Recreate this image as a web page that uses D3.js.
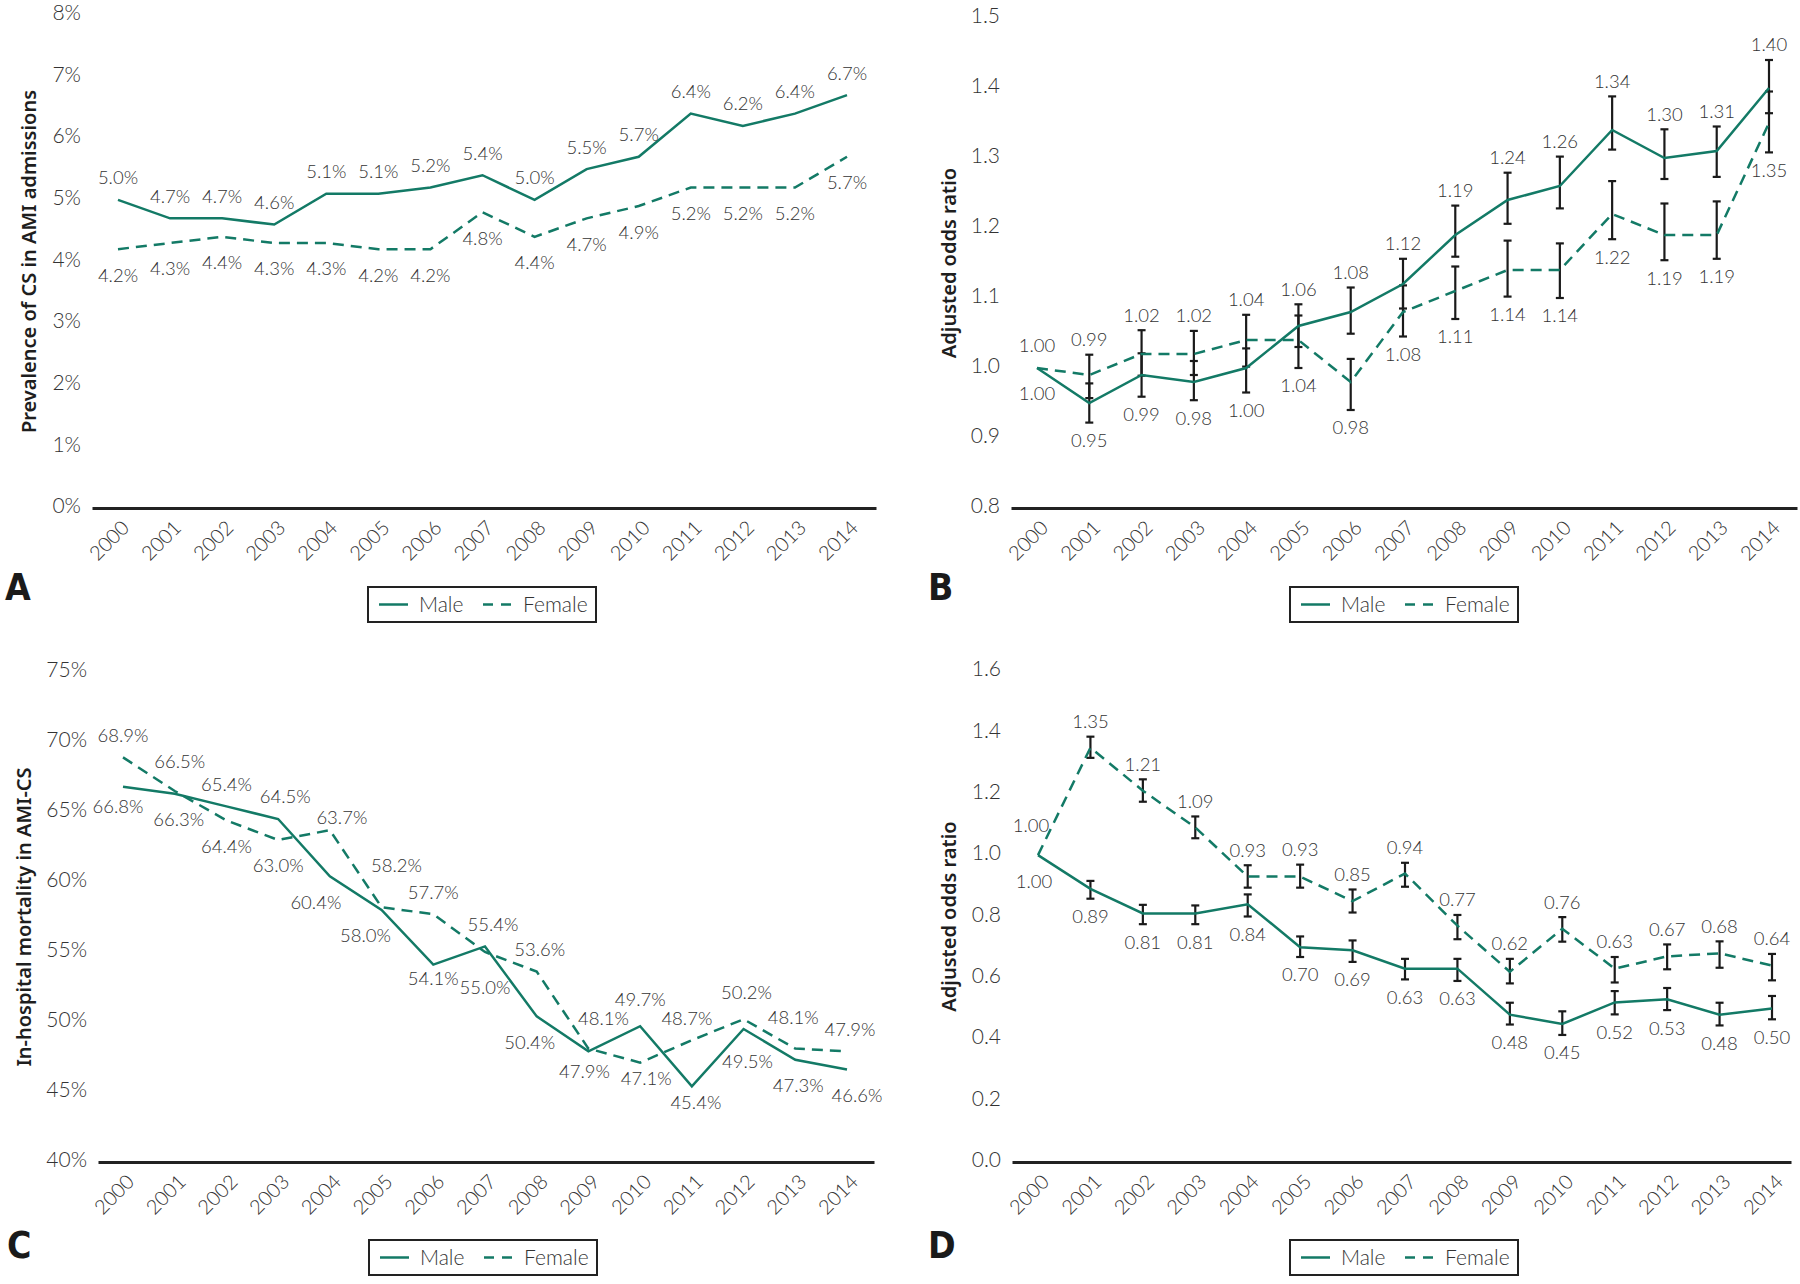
<!DOCTYPE html>
<html>
<head>
<meta charset="utf-8">
<script src="https://cdn.jsdelivr.net/npm/d3@7"></script>
<style>
  html, body { margin: 0; padding: 0; background: #fff; }
  svg { display: block; }
</style>
</head>
<body>
<svg id="chart" width="1800" height="1284"></svg>
<script>
// ---------------- DATA ----------------
const years = ["2000","2001","2002","2003","2004","2005","2006","2007","2008","2009","2010","2011","2012","2013","2014"];

// A: Prevalence of CS in AMI admissions (%)
const prevMale   = [5.0, 4.7, 4.7, 4.6, 5.1, 5.1, 5.2, 5.4, 5.0, 5.5, 5.7, 6.4, 6.2, 6.4, 6.7];
const prevFemale = [4.2, 4.3, 4.4, 4.3, 4.3, 4.2, 4.2, 4.8, 4.4, 4.7, 4.9, 5.2, 5.2, 5.2, 5.7];
const prevTicks  = [0, 1, 2, 3, 4, 5, 6, 7, 8];

// B: Adjusted odds ratio of CS incidence
const orIncMale     = [1.00, 0.95, 0.99, 0.98, 1.00, 1.06, 1.08, 1.12, 1.19, 1.24, 1.26, 1.34, 1.30, 1.31, 1.40];
const orIncMaleLo   = [null, 0.922, 0.959, 0.954, 0.965, 1.030, 1.049, 1.085, 1.159, 1.206, 1.228, 1.312, 1.270, 1.273, 1.364];
const orIncMaleHi   = [null, 0.978, 1.021, 1.010, 1.028, 1.091, 1.115, 1.156, 1.232, 1.279, 1.302, 1.388, 1.341, 1.345, 1.440];
const orIncFemale   = [1.00, 0.99, 1.02, 1.02, 1.04, 1.04, 0.98, 1.08, 1.11, 1.14, 1.14, 1.22, 1.19, 1.19, 1.35];
const orIncFemaleLo = [null, 0.957, 0.989, 0.990, 1.002, 1.000, 0.940, 1.045, 1.070, 1.102, 1.100, 1.184, 1.154, 1.156, 1.308];
const orIncFemaleHi = [null, 1.019, 1.054, 1.053, 1.076, 1.075, 1.013, 1.118, 1.145, 1.182, 1.178, 1.267, 1.235, 1.238, 1.395];
const orIncTicks    = [0.8, 0.9, 1.0, 1.1, 1.2, 1.3, 1.4, 1.5];

// C: In-hospital mortality in AMI-CS (%)
const mortMale   = [66.8, 66.3, 65.4, 64.5, 60.4, 58.0, 54.1, 55.4, 50.4, 47.9, 49.7, 45.4, 49.5, 47.3, 46.6];
const mortFemale = [68.9, 66.5, 64.4, 63.0, 63.7, 58.2, 57.7, 55.0, 53.6, 48.1, 47.1, 48.7, 50.2, 48.1, 47.9];
const mortTicks  = [40, 45, 50, 55, 60, 65, 70, 75];

// D: Adjusted odds ratio of in-hospital mortality
const orMortMale     = [1.00, 0.89, 0.81, 0.81, 0.84, 0.70, 0.69, 0.63, 0.63, 0.48, 0.45, 0.52, 0.53, 0.48, 0.50];
const orMortMaleLo   = [null, 0.858, 0.775, 0.775, 0.800, 0.668, 0.652, 0.595, 0.590, 0.448, 0.414, 0.481, 0.495, 0.445, 0.465];
const orMortMaleHi   = [null, 0.916, 0.838, 0.836, 0.872, 0.735, 0.722, 0.662, 0.662, 0.519, 0.491, 0.557, 0.567, 0.519, 0.541];
const orMortFemale   = [1.00, 1.35, 1.21, 1.09, 0.93, 0.93, 0.85, 0.94, 0.77, 0.62, 0.76, 0.63, 0.67, 0.68, 0.64];
const orMortFemaleLo = [null, 1.317, 1.174, 1.055, 0.894, 0.894, 0.813, 0.897, 0.726, 0.582, 0.718, 0.585, 0.628, 0.633, 0.592];
const orMortFemaleHi = [null, 1.386, 1.247, 1.126, 0.967, 0.969, 0.888, 0.975, 0.805, 0.662, 0.798, 0.668, 0.709, 0.719, 0.678];
const orMortTicks    = [0.0, 0.2, 0.4, 0.6, 0.8, 1.0, 1.2, 1.4, 1.6];

const seriesNames = ["Male", "Female"];

// ---------------- LAYOUT / STYLE ----------------
const TEAL = "#137a66";
const DASH = "11,7";
const LABEL_FONT = 'Lato, "Open Sans", sans-serif';
// hand placement tweaks of individual value labels (pixels), keyed series+year
const nudgeC = {
  m2000: [-5, -6], f2001: [5, -7], m2001: [4, 0], m2003: [7, 0],
  f2004: [12, 9], m2004: [-14, 0], f2005: [15, -20], m2005: [-16, 0],
  m2006: [0, -12], m2007: [8, 0], f2007: [0, 10], f2008: [3, 0], m2008: [-7, 0],
  f2009: [15, -8], m2009: [-4, -6], m2010: [0, -5], f2010: [6, -10], f2011: [-5, 0],
  m2011: [4, -10], f2012: [3, -5], m2012: [4, 7], f2013: [-2, -9], m2013: [3, 0],
  f2014: [3, 0], m2014: [10, 0]
};
const nudgeD = { f2000: [-7, -8], m2000: [-4, 0] };

const svg = d3.select("#chart");

function drawPanel(cfg) {
  const g = svg.append("g");
  const ext = cfg.axisX1 - cfg.axisX0;
  const step = (cfg.lastX - cfg.firstX) / (years.length - 1);
  const pad = (ext / step - (years.length - 1)) / 2;
  const leftover = ext - step * (years.length - 1);
  const x = d3.scalePoint().domain(years).range([cfg.axisX0, cfg.axisX1])
    .padding(pad).align((cfg.firstX - cfg.axisX0) / leftover);
  const y = d3.scaleLinear().domain(cfg.yDomain).range([cfg.axisY, cfg.yTop]);

  // y axis labels
  const ya = g.append("g").attr("transform", `translate(${cfg.axisX0 - 11},0)`)
    .call(d3.axisLeft(y).tickValues(cfg.ticks).tickSize(0).tickPadding(0).tickFormat(cfg.tickFmt));
  ya.select(".domain").remove();
  ya.selectAll("text").attr("font-size", 21).attr("dy", "0.22em")
    .style("font-family", LABEL_FONT).style("font-weight", 300).attr("fill", "#333");

  // x axis
  const xa = g.append("g").attr("transform", `translate(0,${cfg.axisY})`)
    .call(d3.axisBottom(x).tickSize(0).tickSizeOuter(0));
  xa.select(".domain").attr("stroke", "#222").attr("stroke-width", 3);
  xa.selectAll("text").attr("font-size", 20).attr("y", 0).attr("dy", 0)
    .attr("text-anchor", "end").attr("transform", "translate(12,21) rotate(-45)")
    .style("font-family", LABEL_FONT).style("font-weight", 300).attr("fill", "#333");

  // y title
  g.append("text")
    .attr("transform", `translate(${cfg.titleX},${(cfg.axisY + cfg.yTop) / 2}) rotate(-90)`)
    .attr("text-anchor", "middle").attr("dy", "0.35em")
    .attr("font-family", '"Noto Sans", "Open Sans", sans-serif').attr("font-weight", 600)
    .attr("font-size", 20).attr("fill", "#1e1e1e").text(cfg.title);

  // error bars
  const series = cfg.series;
  series.forEach(s => {
    if (!s.lo) return;
    years.forEach((yr, i) => {
      if (s.lo[i] == null) return;
      const cx = x(yr), y0 = y(s.lo[i]), y1 = y(s.hi[i]);
      const eb = g.append("g").attr("stroke", "#1a1a1a").attr("stroke-width", 2.2);
      eb.append("line").attr("x1", cx).attr("x2", cx).attr("y1", y0).attr("y2", y1);
      eb.append("line").attr("x1", cx - 4).attr("x2", cx + 4).attr("y1", y0).attr("y2", y0);
      eb.append("line").attr("x1", cx - 4).attr("x2", cx + 4).attr("y1", y1).attr("y2", y1);
    });
  });

  // lines
  const line = d3.line().x((d, i) => x(years[i])).y(d => y(d));
  series.forEach(s => {
    g.append("path").datum(s.values).attr("d", line)
      .attr("fill", "none").attr("stroke", TEAL).attr("stroke-width", 2.5)
      .attr("stroke-dasharray", s.dashed ? DASH : null);
  });

  // data labels: higher value above, lower value below
  const m = series[0], f = series[1];
  const nudge = cfg.nudge || {};
  years.forEach((yr, i) => {
    const femaleUp = f.values[i] >= m.values[i];
    const up = femaleUp ? f : m, dn = femaleUp ? m : f;
    const upY = (up.hi && up.hi[i] != null) ? y(up.hi[i]) - 15 : y(up.values[i]) - 22;
    const dnY = (dn.lo && dn.lo[i] != null) ? y(dn.lo[i]) + 18 : y(dn.values[i]) + 26;
    [[up, upY], [dn, dnY]].forEach(([s, ly]) => {
      const key = (s === m ? "m" : "f") + yr;
      const [dx, dy] = nudge[key] || [0, 0];
      g.append("text").attr("x", x(yr) + dx).attr("y", ly + dy).attr("dy", "0.35em")
        .attr("text-anchor", "middle").attr("font-family", LABEL_FONT).attr("font-weight", 300)
        .attr("font-size", 18.5).attr("fill", "#333").text(cfg.labelFmt(s.values[i]));
    });
  });

  // panel letter
  g.append("text").attr("x", cfg.letterX).attr("y", cfg.letterY)
    .attr("font-family", '"Liberation Sans Narrow", "DejaVu Sans Condensed", "Liberation Sans", sans-serif')
    .attr("font-weight", 700).attr("font-size", 37).attr("fill", "#1a1a1a").text(cfg.letter);

  // legend
  const lg = g.append("g").attr("transform", `translate(${cfg.legendX},${cfg.legendY})`);
  lg.append("rect").attr("x", 0).attr("y", 0).attr("width", 228).attr("height", 35)
    .attr("fill", "#fff").attr("stroke", "#222").attr("stroke-width", 2);
  const items = [{ name: seriesNames[0], dashed: false, lx: 11, tx: 51 },
                 { name: seriesNames[1], dashed: true, lx: 115, tx: 155 }];
  items.forEach(it => {
    lg.append("line").attr("x1", it.lx).attr("x2", it.lx + 29).attr("y1", 17.5).attr("y2", 17.5)
      .attr("stroke", TEAL).attr("stroke-width", 2.5).attr("stroke-dasharray", it.dashed ? "10,8" : null);
    lg.append("text").attr("x", it.tx).attr("y", 17.5).attr("dy", "0.36em")
      .attr("font-family", LABEL_FONT).attr("font-weight", 300).attr("font-size", 21)
      .attr("fill", "#333").text(it.name);
  });
}

const pct0 = v => v + "%";
const f1 = d3.format(".1f");
const pct1 = v => v.toFixed(1) + "%";
const f2 = v => v.toFixed(2);

drawPanel({
  letter: "A", letterX: 5, letterY: 600, legendX: 368, legendY: 587,
  axisX0: 92, axisX1: 876, firstX: 118, lastX: 847, axisY: 508, yTop: 15,
  yDomain: [0, 8], ticks: prevTicks, tickFmt: pct0, labelFmt: pct1,
  title: "Prevalence of CS in AMI admissions", titleX: 29,
  series: [{ values: prevMale, dashed: false }, { values: prevFemale, dashed: true }]
});

drawPanel({
  letter: "B", letterX: 928, letterY: 600, legendX: 1290, legendY: 587,
  axisX0: 1011, axisX1: 1797, firstX: 1037, lastX: 1769, axisY: 508, yTop: 18,
  yDomain: [0.8, 1.5], ticks: orIncTicks, tickFmt: f1, labelFmt: f2,
  title: "Adjusted odds ratio", titleX: 949,
  series: [{ values: orIncMale, lo: orIncMaleLo, hi: orIncMaleHi, dashed: false },
           { values: orIncFemale, lo: orIncFemaleLo, hi: orIncFemaleHi, dashed: true }]
});

drawPanel({
  letter: "C", letterX: 7, letterY: 1258, legendX: 369, legendY: 1240,
  axisX0: 98, axisX1: 874, firstX: 123, lastX: 847, axisY: 1162, yTop: 672,
  yDomain: [40, 75], ticks: mortTicks, tickFmt: pct0, labelFmt: pct1, nudge: nudgeC,
  title: "In-hospital mortality in AMI-CS", titleX: 24,
  series: [{ values: mortMale, dashed: false }, { values: mortFemale, dashed: true }]
});

drawPanel({
  letter: "D", letterX: 928, letterY: 1258, legendX: 1290, legendY: 1240,
  axisX0: 1012, axisX1: 1791, firstX: 1038, lastX: 1772, axisY: 1162, yTop: 671,
  yDomain: [0, 1.6], ticks: orMortTicks, tickFmt: f1, labelFmt: f2, nudge: nudgeD,
  title: "Adjusted odds ratio", titleX: 949,
  series: [{ values: orMortMale, lo: orMortMaleLo, hi: orMortMaleHi, dashed: false },
           { values: orMortFemale, lo: orMortFemaleLo, hi: orMortFemaleHi, dashed: true }]
});
</script>
</body>
</html>
